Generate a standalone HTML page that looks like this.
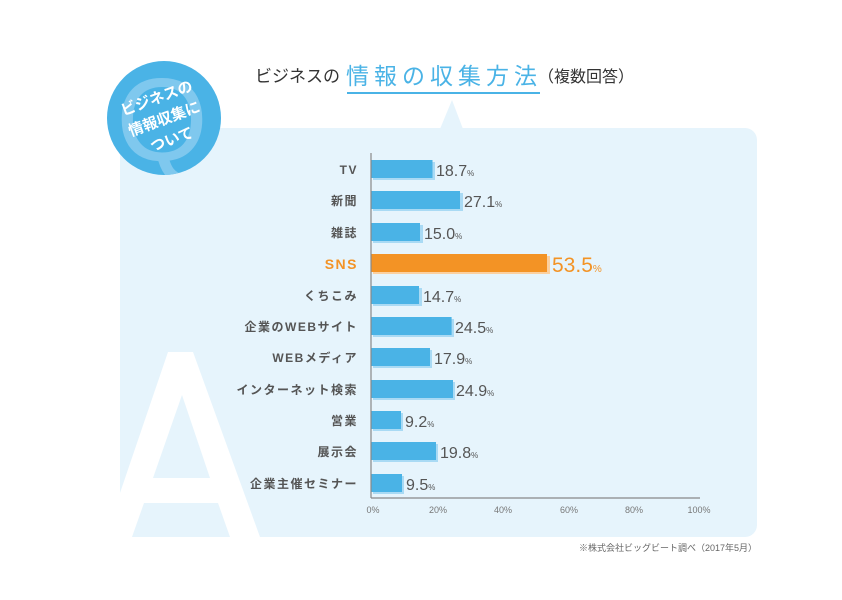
<!DOCTYPE html>
<html><head><meta charset="utf-8"><style>
body{margin:0;width:842px;height:595px;background:#fff;overflow:hidden;font-family:"Liberation Sans","Noto Sans CJK JP",sans-serif}
</style></head><body>
<svg width="842" height="595" viewBox="0 0 842 595" xmlns="http://www.w3.org/2000/svg" font-family="Liberation Sans, Noto Sans CJK JP, sans-serif">
<defs><clipPath id="c"><circle cx="164" cy="118" r="57"/></clipPath></defs>
<rect x="120" y="128" width="637" height="409" rx="12" fill="#e6f4fc"/>
<polygon points="440,129 452,100 463,129" fill="#e6f4fc"/>
<polygon points="105,537 168,352 193,352 260,537" fill="#fff"/>
<polygon points="182,395 153,478 210,478" fill="#e6f4fc"/>
<polygon points="144,503 218,503 230,537 132,537" fill="#e6f4fc"/>
<circle cx="164" cy="118" r="57" fill="#4ab3e6"/>
<text x="162" y="160" font-size="118" fill="#8ccdf0" text-anchor="middle" clip-path="url(#c)" opacity="0.8">Q</text>
<g fill="#fff" font-size="15" font-weight="bold" text-anchor="middle" transform="rotate(-20 164 118)">
<text x="164" y="102">ビジネスの</text><text x="164" y="124">情報収集に</text><text x="164" y="146">ついて</text></g>
<text x="255" y="82" font-size="17" fill="#333">ビジネスの</text>
<text x="346" y="84" font-size="23" fill="#4ab3e6" letter-spacing="5">情報の収集方法</text>
<text x="538" y="82" font-size="16" fill="#333">（複数回答）</text>
<rect x="347" y="92" width="193" height="2" fill="#4ab3e6"/>
<g font-size="12" fill="#555" text-anchor="end" font-weight="bold" letter-spacing="1.5">
<text x="358" y="174">TV</text><text x="358" y="205">新聞</text><text x="358" y="237">雑誌</text>
<text x="358" y="269" fill="#f39325" font-size="14">SNS</text>
<text x="358" y="300">くちこみ</text><text x="358" y="331">企業のWEBサイト</text><text x="358" y="362">WEBメディア</text>
<text x="358" y="394">インターネット検索</text><text x="358" y="425">営業</text><text x="358" y="456">展示会</text><text x="358" y="488">企業主催セミナー</text></g>
<g fill="#a9daf4">
<rect x="373" y="162" width="62" height="18"/><rect x="373" y="193" width="90" height="18"/><rect x="373" y="225" width="50" height="18"/>
<rect x="373" y="288" width="49" height="18"/><rect x="373" y="319" width="81" height="18"/><rect x="373" y="350" width="59" height="18"/>
<rect x="373" y="382" width="82" height="18"/><rect x="373" y="413" width="30" height="18"/><rect x="373" y="444" width="65" height="18"/><rect x="373" y="476" width="31" height="18"/></g>
<rect x="373" y="256" width="177" height="18" fill="#fbd0a0"/>
<g fill="#4ab3e6">
<rect x="371" y="160" width="61.5" height="18"/><rect x="371" y="191" width="89" height="18"/><rect x="371" y="223" width="49" height="18"/>
<rect x="371" y="286" width="48" height="18"/><rect x="371" y="317" width="80.6" height="18"/><rect x="371" y="348" width="59" height="18"/>
<rect x="371" y="380" width="82" height="18"/><rect x="371" y="411" width="30" height="18"/><rect x="371" y="442" width="65" height="18"/><rect x="371" y="474" width="31" height="18"/></g>
<rect x="371" y="254" width="176" height="18" fill="#f39325"/>
<line x1="371" y1="153" x2="371" y2="498" stroke="#888" stroke-width="1.2"/>
<line x1="371" y1="498" x2="700" y2="498" stroke="#888" stroke-width="1.2"/>
<g font-size="16" fill="#555">
<text x="436" y="176">18.7<tspan font-size="8">%</tspan></text><text x="464" y="207">27.1<tspan font-size="8">%</tspan></text>
<text x="424" y="239">15.0<tspan font-size="8">%</tspan></text><text x="423" y="302">14.7<tspan font-size="8">%</tspan></text>
<text x="455" y="333">24.5<tspan font-size="8">%</tspan></text><text x="434" y="364">17.9<tspan font-size="8">%</tspan></text>
<text x="456" y="396">24.9<tspan font-size="8">%</tspan></text><text x="405" y="427">9.2<tspan font-size="8">%</tspan></text>
<text x="440" y="458">19.8<tspan font-size="8">%</tspan></text><text x="406" y="490">9.5<tspan font-size="8">%</tspan></text></g>
<text x="552" y="272" font-size="21" fill="#f39325">53.5<tspan font-size="10">%</tspan></text>
<g font-size="9" fill="#777" text-anchor="middle">
<text x="373" y="513">0%</text><text x="438" y="513">20%</text><text x="503" y="513">40%</text><text x="569" y="513">60%</text><text x="634" y="513">80%</text><text x="699" y="513">100%</text></g>
<text x="757" y="551" font-size="9" fill="#666" text-anchor="end">※株式会社ビッグビート調べ（2017年5月）</text>
</svg>
</body></html>
